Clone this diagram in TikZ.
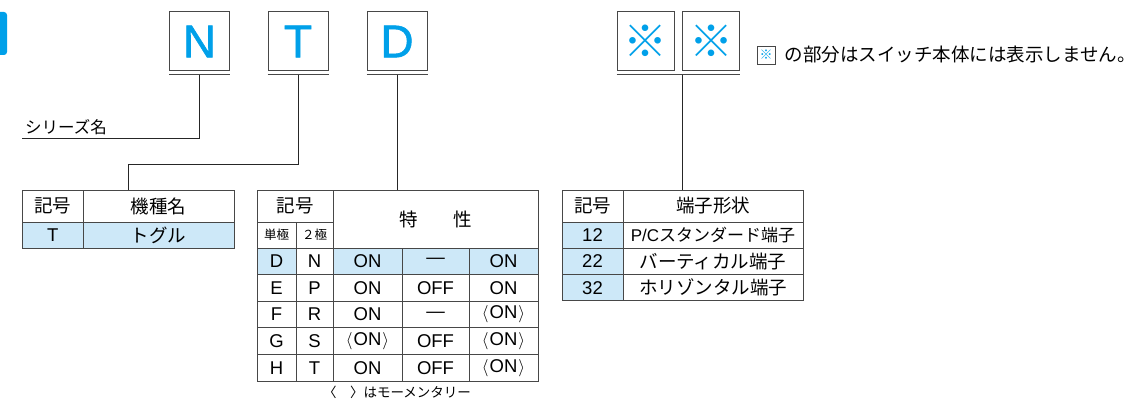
\documentclass[tikz,border=0pt]{standalone}
\usepackage{fontspec}
\setmainfont{Liberation Sans}
\newfontfamily\jp{Noto Sans CJK JP}
\newfontfamily\codefont[FakeBold=1.3]{Liberation Sans}
\usetikzlibrary{positioning}
\definecolor{codeCol}{RGB}{0,160,233}
\definecolor{selCol}{RGB}{205,232,248}
\colorlet{lineCol}{black!72}

\tikzset{
  cell/.style={draw=lineCol, line width=0.9pt, anchor=north west, inner sep=0pt, outer sep=0pt, font=\fontsize{18.5}{18.5}\selectfont},
  codebox/.style={draw=lineCol, line width=1pt, minimum width=60, minimum height=59, inner sep=0pt, text=codeCol, font=\codefont\fontsize{46}{46}\selectfont},
  markbox/.style={codebox, minimum width=57, font=\jp\bfseries\fontsize{44}{44}\selectfont},
  wire/.style={draw=black!85, line width=0.8pt},
}
\newcommand{\mom}[1]{$\langle$\kern0.05em#1\kern0.05em$\rangle$}

\begin{document}
\begin{tikzpicture}[x=1pt, y=-1pt]
%--------------------------------------------------
\useasboundingbox (0,0) rectangle (1148,401);

% blue tab at the left edge
\fill [codeCol, rounded corners=3pt](-6,12) rectangle (7,55);

% code letters
\node[codebox] (N) at (199.5,41.5) {N};
\node[codebox] (T) at (298,41.5) {T};
\node[codebox] (D) at (397,41.5) {D};
\node[markbox] (X1) at (645.5,41.5) {※};
\node[markbox] (X2) at (711,41.5) {※};

% second line under the boxes
\draw [lineCol, line width=1pt]([yshift=-3.5pt]N.south west) -- ([yshift=-3.5pt]N.south east);
\draw [lineCol, line width=1pt]([yshift=-3.5pt]T.south west) -- ([yshift=-3.5pt]T.south east);
\draw [lineCol, line width=1pt]([yshift=-3.5pt]D.south west) -- ([yshift=-3.5pt]D.south east);
\draw [lineCol, line width=1pt]([yshift=-3.5pt]X1.south west) -- ([yshift=-3.5pt]X2.south east);

% note on the right
\node[draw=lineCol, line width=0.8pt, minimum size=18, inner sep=0pt, text=codeCol, font=\jp\fontsize{13}{13}\selectfont] (noteBox) at (766,55) {※};
\node[right=9pt of noteBox, inner sep=0pt, font=\jp\fontsize{18.5}{18.5}\selectfont] (noteText) {の部分はスイッチ本体には表示しません。};

% table: type
\node[cell, minimum width=60.3, minimum height=32] (k1h) at (22.7,190) {\jp 記号};
\node[cell, minimum width=151, minimum height=32] (m1h) at (83,190) {\jp 機種名};
\node[cell, minimum width=60.3, minimum height=26, fill=selCol] (k1T) at (22.7,222) {T};
\node[cell, minimum width=151, minimum height=26, fill=selCol] (m1T) at (83,222) {\jp トグル};

% table: characteristics
\node[cell, minimum width=76, minimum height=32] (k2h) at (257,190) {\jp 記号};
\node[cell, minimum width=39, minimum height=26, font=\jp\fontsize{12.5}{12.5}\selectfont] (k2s) at (257,222) {単極};
\node[cell, minimum width=37, minimum height=26, font=\jp\fontsize{12.5}{12.5}\selectfont] (k2d) at (296,222) {２極};
\node[cell, minimum width=205, minimum height=58] (c2h) at (333,190) {\jp 特\hspace{1.9em}性};

\node[cell, minimum width=39, minimum height=26.6, fill=selCol] (sD) at (257,248) {D};
\node[cell, minimum width=37, minimum height=26.6] (dN) at (296,248) {N};
\node[cell, minimum width=69, minimum height=26.6, fill=selCol] (aD) at (333,248) {ON};
\node[cell, minimum width=67, minimum height=26.6, fill=selCol] (bD) at (402,248) {—};
\node[cell, minimum width=69, minimum height=26.6, fill=selCol] (cD) at (469,248) {ON};

\node[cell, minimum width=39, minimum height=26.6] (sE) at (257,274.6) {E};
\node[cell, minimum width=37, minimum height=26.6] (dP) at (296,274.6) {P};
\node[cell, minimum width=69, minimum height=26.6] (aE) at (333,274.6) {ON};
\node[cell, minimum width=67, minimum height=26.6] (bE) at (402,274.6) {OFF};
\node[cell, minimum width=69, minimum height=26.6] (cE) at (469,274.6) {ON};

\node[cell, minimum width=39, minimum height=26.6] (sF) at (257,301.2) {F};
\node[cell, minimum width=37, minimum height=26.6] (dR) at (296,301.2) {R};
\node[cell, minimum width=69, minimum height=26.6] (aF) at (333,301.2) {ON};
\node[cell, minimum width=67, minimum height=26.6] (bF) at (402,301.2) {—};
\node[cell, minimum width=69, minimum height=26.6] (cF) at (469,301.2) {\mom{ON}};

\node[cell, minimum width=39, minimum height=26.6] (sG) at (257,327.8) {G};
\node[cell, minimum width=37, minimum height=26.6] (dS) at (296,327.8) {S};
\node[cell, minimum width=69, minimum height=26.6] (aG) at (333,327.8) {\mom{ON}};
\node[cell, minimum width=67, minimum height=26.6] (bG) at (402,327.8) {OFF};
\node[cell, minimum width=69, minimum height=26.6] (cG) at (469,327.8) {\mom{ON}};

\node[cell, minimum width=39, minimum height=26.6] (sH) at (257,354.4) {H};
\node[cell, minimum width=37, minimum height=26.6] (dT) at (296,354.4) {T};
\node[cell, minimum width=69, minimum height=26.6] (aH) at (333,354.4) {ON};
\node[cell, minimum width=67, minimum height=26.6] (bH) at (402,354.4) {OFF};
\node[cell, minimum width=69, minimum height=26.6] (cH) at (469,354.4) {\mom{ON}};

\node[font=\jp\fontsize{13.5}{13.5}\selectfont, inner sep=0pt] (momNote) at (397,392) {〈\hspace{1em}〉はモーメンタリー};

% table: terminals
\node[cell, minimum width=61, minimum height=32] (k3h) at (562,190) {\jp 記号};
\node[cell, minimum width=180, minimum height=32] (t3h) at (623,190) {\jp 端子形状};
\node[cell, minimum width=61, minimum height=26.3, fill=selCol] (k12) at (562,222) {12};
\node[cell, minimum width=180, minimum height=26.3, font=\fontsize{17}{17}\selectfont] (t12) at (623,222) {P/C{\jp スタンダード端子}};
\node[cell, minimum width=61, minimum height=26.3, fill=selCol] (k22) at (562,248.3) {22};
\node[cell, minimum width=180, minimum height=26.3] (t22) at (623,248.3) {\jp バーティカル端子};
\node[cell, minimum width=61, minimum height=26.3, fill=selCol] (k32) at (562,274.6) {32};
\node[cell, minimum width=180, minimum height=26.3] (t32) at (623,274.6) {\jp ホリゾンタル端子};

% lines from the code letters
\coordinate (nTap) at ([yshift=-3.5pt]N.south);
\coordinate (tTap) at ([yshift=-3.5pt]T.south);
\coordinate (dTap) at ([yshift=-3.5pt]D.south);
\coordinate (xTap) at (682,75);
\coordinate (seriesEnd) at (22,138);
\coordinate (tBend) at (128,164);

\draw [wire](nTap) |- (seriesEnd);
\node[anchor=south west, inner sep=0pt, yshift=3pt, font=\jp\fontsize{16.5}{16.5}\selectfont] (series) at ([xshift=3pt]seriesEnd) {シリーズ名};
\draw [wire](tTap) |- (tBend) -- (tBend |- k1h.north);
\draw [wire](dTap) -- (dTap |- k2h.north);
\draw [wire](xTap) -- (xTap |- k3h.north);

%--------------------------------------------------
\end{tikzpicture}
\end{document}
